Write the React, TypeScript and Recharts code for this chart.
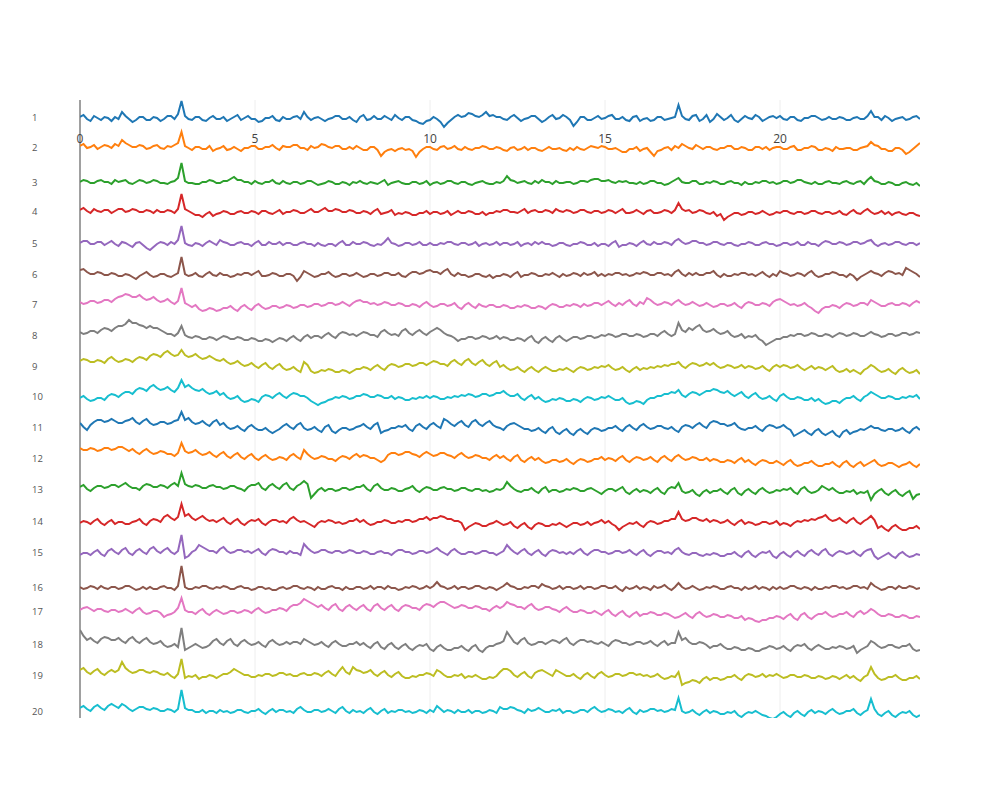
import React from 'react';
import { LineChart, Line, XAxis, YAxis, ReferenceLine } from 'recharts';

// sample times (s), 0.1 s grid from 0 to 24
const TIMES: number[] = Array.from({ length: 241 }, (_, i) => i / 10);
const X_TICKS = [0, 5, 10, 15, 20];
const CHANNEL_NAMES = ['1','2','3','4','5','6','7','8','9','10','11','12','13','14','15','16','17','18','19','20'];

// channel signals (amplitude units), one line per second
const CH1 = [
1,3,-1,-3,2,0,-2,1,0,-3, 1,-1,6,2,-1,-4,-2,1,1,-2, -2,1,0,-3,-1,2,2,-1,4,17, 2,-1,-2,1,1,-2,-3,0,2,-1,
-1,1,-3,-1,1,3,-2,0,2,-1, -1,-4,-3,0,0,2,-2,-3,1,-1, -1,1,2,-1,6,1,-2,0,1,-1, -3,-1,0,2,2,-1,-1,1,-2,-4,
1,3,-2,-1,2,-1,-1,2,0,-2, 3,0,-2,1,1,-2,-3,-5,-6,-3, -2,1,-1,-4,-9,-5,-2,1,3,1, 2,5,4,2,1,3,6,2,3,1,
1,-1,-2,1,3,0,-3,-1,0,2, 2,-1,-4,-2,1,3,-1,0,3,1, -2,-8,-4,1,1,-2,-2,0,2,-1, 0,2,3,-1,-1,1,-2,-3,1,2,
-3,-1,0,-3,-2,1,1,-2,-1,0, 1,13,2,-1,-2,2,3,-3,-1,3, -4,-1,4,1,-2,0,3,-2,-4,-1, 2,0,-1,3,1,-3,-1,1,2,0,
2,-1,-2,1,1,-2,-3,0,0,2, 2,0,-2,-1,1,-1,-1,1,0,-2, -2,0,1,-1,-1,2,7,1,1,-2, 2,0,-3,-1,0,1,-2,-1,1,2, -1];
const CH2 = [
2,4,0,1,3,-1,1,3,2,0, 4,2,8,5,3,1,1,3,2,-1, 0,2,3,0,-1,2,1,3,5,16, 2,0,-2,1,1,-1,-1,2,-3,-1,
0,2,-2,-1,1,-1,-3,0,0,2, 2,-1,-1,1,1,3,0,-2,2,1, 1,3,3,0,0,-2,2,0,1,4, 3,1,0,2,2,-1,-1,1,-1,2,
0,-2,-2,1,1,-2,-8,-4,-2,-1, -3,-1,0,-2,-1,-3,-9,-4,-1,1, 1,-1,-2,1,2,-1,0,2,-1,-2, 1,-1,-2,0,0,2,1,-1,-1,1,
0,-2,-3,0,1,-2,-1,1,-2,0, 0,-2,-3,-1,1,-1,-1,0,-2,-3, 0,-2,1,-1,-2,0,2,1,0,2, 1,-1,-1,0,-2,-4,-4,-1,-1,1,
-3,-1,0,-4,-8,-3,-2,0,1,-2, 2,0,4,2,0,-1,3,1,-1,1, 1,-1,-2,0,0,2,2,-1,-1,1, 0,-2,-2,1,1,-1,1,-2,0,1,
1,-1,-1,1,2,-2,-2,0,0,2, 1,-2,-2,0,-1,-3,1,-1,-1,0, 0,-2,-2,0,1,2,6,3,2,-1, -1,-3,-3,0,0,-2,-6,-4,-1,2, 5];
const CH3 = [
1,3,2,0,0,2,3,1,1,-1, 3,1,2,3,0,-1,1,3,2,0, 1,3,2,0,0,-1,1,2,5,20, 2,0,0,-1,-1,1,1,3,2,0,
0,2,2,4,6,3,3,1,1,-1, 2,0,-1,1,1,3,0,-1,2,0, -1,1,1,-1,0,2,2,0,-2,-1, 0,2,1,-1,-1,1,0,-2,1,0,
2,0,-1,1,0,-1,1,3,-2,0, 1,2,0,-1,-1,1,1,-1,0,2, -2,0,1,-1,0,2,2,0,-1,1, 1,-1,-2,0,1,2,0,-1,-1,1,
0,2,7,3,2,0,1,2,0,-1, 2,0,3,1,1,-1,2,0,0,1, 1,-1,0,2,2,1,3,4,4,2, 2,3,1,0,2,1,2,0,0,-1,
1,-1,0,2,2,0,0,-2,-1,1, 3,5,1,0,0,2,2,-1,-1,1, 0,2,1,-1,-1,1,2,0,0,-2, 1,-1,-1,1,0,2,2,0,1,-1,
0,2,2,0,1,3,3,1,0,-1, 1,-1,-1,1,2,0,0,-1,1,2, 0,-1,1,2,-1,3,6,2,1,-1, -1,1,0,-2,-2,0,1,-1,-2,0, -3];
const CH4 = [
2,4,1,-1,3,1,0,2,2,-1, 1,3,3,0,1,3,2,0,0,2, 1,-1,2,0,0,2,1,-1,3,18, 3,1,-1,-3,-3,-5,-2,0,-4,-2,
-1,1,0,-2,-2,0,1,-1,-1,1, 0,-2,1,1,-1,-2,0,2,-2,0, 0,2,1,-1,-1,1,3,0,0,2, 4,1,1,3,2,0,0,2,1,-1,
-1,1,0,-2,1,3,-2,-1,0,2, -3,-1,-2,0,-1,-3,-3,-1,-1,1, -2,0,0,-2,-1,1,-3,-1,1,-1, -1,1,0,-2,-2,0,-3,-1,-1,1,
0,2,2,0,0,-1,1,3,-1,1, 2,0,0,2,1,-1,3,1,0,2, 1,-1,0,2,2,0,-1,1,1,-1, 0,2,1,-1,1,3,-1,-1,0,2,
0,-2,1,2,-1,-1,0,2,1,-1, 2,9,3,1,2,-1,0,2,1,-1, -2,0,-4,-2,-8,-5,-3,-1,-1,-3, -2,0,0,-2,-1,1,-1,-3,-2,0,
-1,1,1,-1,-2,0,0,-2,-1,1, 1,-1,-2,0,0,-2,-1,1,-2,-3, 0,2,-1,-2,1,3,0,-2,-1,1, -2,0,-3,-1,0,-2,-3,-1,-1,-3, -4];
const CH5 = [
1,3,3,0,0,2,2,-1,1,3, 0,-2,2,1,-1,-3,1,2,-1,-4, -6,-3,0,2,1,-1,2,0,4,18, 1,-1,-2,1,0,-2,1,3,1,-1,
4,2,1,-1,-1,1,2,0,0,-2, 1,3,-1,-1,2,0,0,2,-1,1, 1,-1,-1,1,2,0,0,-2,1,-1, -2,0,0,-2,1,3,-1,-1,2,0,
0,2,1,-1,-2,0,-1,2,6,1, 0,-2,-1,1,1,-1,0,2,-1,-1, 1,-1,-1,1,0,2,2,0,-1,1, 1,-1,0,2,-2,0,1,-1,0,2,
-1,1,1,-1,0,2,-2,0,1,-1, 2,0,2,0,0,-2,-1,1,1,-1, -2,0,0,2,1,-1,-1,1,-2,0, 0,-2,1,3,-3,-1,-1,1,0,-2,
1,3,0,-1,2,0,0,2,1,-1, 3,5,2,0,1,3,3,1,1,-1, 0,2,2,0,-1,1,1,-1,-2,0, 0,2,1,-1,-1,1,2,0,0,-2,
-1,1,1,-1,0,2,-1,-1,2,0, 0,-2,1,3,2,0,0,2,1,-1, 0,2,2,0,1,3,4,0,-2,0, 1,-1,0,2,2,0,-1,1,1,-1, 1];
const CH6 = [
5,6,3,1,1,3,2,0,0,2, 1,-1,-1,1,0,-2,-4,-1,1,3, 0,-2,-1,1,1,-1,-2,0,2,18, 1,-1,0,2,-1,-2,1,3,0,-1,
2,0,0,-2,-1,1,0,2,2,0, 2,4,-1,-1,0,2,1,-1,-1,1, 1,-1,-6,-2,4,2,0,-2,-1,1, 1,3,0,-2,-1,1,1,-1,0,2,
0,-2,-1,1,1,-1,0,2,2,0, 0,2,-1,-2,1,3,3,1,2,4, 5,3,3,1,4,6,1,-1,2,0, 0,-2,-1,1,1,-1,-2,0,-3,-1,
-1,1,0,-2,1,3,-2,0,0,2, 1,-1,-1,1,0,2,0,-2,1,-1, 0,2,1,-1,2,0,1,3,-1,1, -1,1,0,2,2,0,1,-1,0,2,
1,3,2,0,0,2,2,0,1,-1, 3,5,1,-1,2,0,2,0,0,2, 2,4,0,-2,1,-1,-1,1,0,2, 2,0,1,-1,1,3,0,-2,1,-1,
4,2,1,-1,0,2,1,-1,2,4, 0,-2,-1,1,1,3,2,0,0,-2, 1,-1,-5,-2,0,2,4,2,1,-1, 2,4,3,1,2,0,7,5,3,1, -2];
const CH7 = [
3,1,2,4,4,2,3,5,5,3, 6,8,9,11,10,8,8,10,7,5, 6,8,5,3,4,6,3,1,4,17, 2,0,-2,0,-4,-6,-5,-3,-4,-6,
-5,-3,-3,-1,-4,-6,-2,0,-3,-5, -1,1,-2,-4,-3,-1,-1,-3,-2,0, -1,-3,-2,0,0,-2,-1,1,1,-1, 0,2,2,0,1,3,1,-1,2,4,
5,3,3,1,2,0,1,3,2,0, 0,2,1,-1,-1,1,0,-2,1,3, 0,-2,-1,1,1,-1,0,2,-2,-4, 0,2,-1,-3,1,-1,-2,0,0,-2,
-2,0,-1,-3,-3,-1,-2,0,-1,-3, -3,-1,-2,-4,-1,1,0,-2,-2,0, -1,1,0,-2,1,-1,0,2,2,0, 2,4,1,-1,2,0,3,5,1,-1,
3,1,7,5,2,0,1,3,2,0, 3,5,2,0,1,3,1,-1,0,2, 0,-2,-1,1,1,-1,0,2,-1,-3, 1,3,2,0,0,2,1,-1,3,5,
6,4,2,0,1,-1,0,2,-1,-3, -6,-8,-4,-2,-2,0,-1,-3,0,2, 1,-1,0,2,2,0,5,3,1,-1, -1,1,2,0,0,2,1,-1,2,4, 2];
const CH8 = [
4,2,3,5,5,3,6,8,7,5, 8,10,10,12,16,13,13,11,10,8, 10,8,8,6,4,2,2,0,3,10, 1,-1,-2,0,-1,-3,-3,-1,-2,-4,
-2,0,-1,-3,-3,-1,-2,-4,-4,-2, -3,-5,-5,-3,-4,-6,-4,-2,-3,-5, -2,0,-3,-5,-1,1,-2,0,0,-2, 1,3,0,-2,2,4,3,1,2,0,
2,4,3,1,1,-1,4,6,3,1, 2,0,5,7,3,1,4,6,3,1, 4,6,8,6,3,1,0,-2,-5,-3, -3,-1,-1,-3,-2,0,-1,-3,-2,0,
-3,-1,-2,-4,-4,-2,-3,-5,-2,0, -5,-7,-3,-1,-4,-6,-2,0,-3,-5, -3,-1,-1,-3,-2,0,0,-2,-1,1, 0,2,1,-1,0,2,2,0,0,2,
1,-1,0,2,2,0,3,5,2,0, 2,13,6,4,8,6,9,11,6,4, 5,7,4,2,3,5,1,-1,0,2, -2,0,-1,1,-3,-5,-9,-7,-5,-3,
-3,-1,-1,1,0,2,2,0,1,3, 2,0,0,2,1,-1,1,3,2,0, 1,3,2,0,0,2,4,2,1,-1, 0,2,2,0,1,3,3,1,2,4, 3];
const CH9 = [
6,8,7,5,5,7,6,4,8,10, 7,5,6,8,7,5,8,10,9,7, 11,13,12,10,14,16,13,11,12,17, 12,10,11,13,10,8,9,11,9,7,
6,8,5,3,4,6,3,1,2,4, 1,-1,2,4,0,-2,1,3,-1,-3, -2,0,-3,-5,5,2,-4,-6,-5,-3, -4,-2,-3,-5,-5,-3,-4,-6,-4,-2,
-2,0,-1,-3,0,2,-1,-3,1,3, 2,0,1,3,3,1,2,4,4,2, 4,6,5,3,3,1,5,7,4,2, 6,8,4,2,5,7,3,1,4,6,
0,2,-1,-3,-2,0,-3,-5,-2,0, -3,-5,-2,0,-2,-4,-4,-2,-3,-1, -3,-5,-2,0,-1,-3,-2,0,-1,1, 0,2,-1,-3,-2,0,-3,-5,-2,0,
-3,-1,-2,0,-1,1,0,2,1,3, 3,5,1,-1,2,4,3,1,2,4, 2,4,1,-1,0,2,1,-1,0,2, -1,1,0,-2,-1,1,-2,-4,0,2,
0,2,1,-1,0,2,-1,-3,-1,1, -2,0,-1,-3,-1,1,-3,-5,-4,-2, -5,-3,-5,-7,-3,-1,2,0,-3,-5, -4,-2,-5,-7,-3,-1,-4,-6,-5,-3, -7];
const CH10 = [
-1,1,-2,-4,-3,-1,-1,-3,1,3, 2,0,3,5,5,3,7,9,8,6, 10,12,9,7,8,10,7,5,9,17, 10,12,9,7,6,8,5,3,4,6,
2,4,0,-2,-1,1,-3,-5,-4,-2, -3,-5,0,2,1,-1,2,4,1,-1, 2,4,3,1,1,-1,-4,-6,-8,-6, -5,-3,-2,0,-1,1,0,-2,-1,1,
1,3,2,0,0,2,1,-1,-1,1, -2,0,-1,-3,-3,-1,-2,0,-1,1, -1,1,0,-2,-2,0,-1,1,0,2, 1,3,2,0,1,3,3,1,2,4,
4,6,3,1,1,3,-1,-3,0,2, -2,0,-3,-5,-4,-2,-3,-1,-2,-4, -4,-2,-3,-5,-2,0,-1,-3,-2,0, -1,1,-1,-3,-3,-1,-5,-7,-6,-4,
-5,-7,-3,-1,-1,1,1,3,3,5, 4,7,2,0,3,5,4,2,4,6, 6,8,7,5,4,6,3,1,3,5, 1,-1,2,4,0,-2,-1,1,-2,-4,
1,3,0,-2,-2,0,-1,-3,-3,-1, -4,-2,-5,-7,-6,-4,-4,-6,-3,-1, -1,1,-2,-4,0,2,5,3,1,-1, -1,1,0,-2,-2,0,-1,1,0,2, -2];
const CH11 = [
5,1,-2,3,6,8,8,6,7,9, 7,5,5,7,8,10,6,4,7,9, 5,3,4,6,6,4,5,7,8,16, 8,10,6,4,5,7,4,2,6,8,
3,5,1,-1,0,2,-1,-3,1,3, 0,-2,-2,0,-3,-5,-3,-1,2,4, 1,-1,3,5,0,-2,-1,1,-2,-4, 1,3,-3,-5,-2,0,0,-2,-1,1,
2,4,1,-1,3,5,-5,-3,-2,0, 0,2,1,3,-1,-3,2,4,1,-1, 3,5,2,0,9,7,4,2,5,7, 3,1,6,8,4,2,5,7,3,1,
0,-2,2,4,5,3,1,-1,-1,-3, -2,0,-3,-5,-1,1,-4,-6,-3,-1, -5,-7,-3,-1,-4,-6,-2,0,-1,-3, -2,0,0,2,-1,-3,1,3,0,-2,
2,4,1,-1,0,2,2,0,-1,1, -2,-4,1,3,2,0,3,5,2,0, 5,7,6,4,4,2,3,5,1,-1, -2,0,0,2,-1,-3,1,3,2,0,
1,3,0,-2,-8,-6,-4,-2,-5,-7, -3,-1,-5,-7,-5,-3,-7,-9,-4,-2, -6,-4,-3,-1,-2,0,2,0,0,-2, -3,-1,-1,-3,-2,0,-3,-5,-1,1, -2];
const CH12 = [
11,9,9,11,10,8,9,11,11,9, 10,12,12,10,8,10,7,5,8,10, 7,5,6,8,7,5,5,3,6,16, 8,6,7,9,6,4,5,7,4,2,
5,7,3,1,4,6,2,0,3,5, 1,-1,2,4,1,-1,0,2,1,-1, 3,5,2,0,9,5,2,0,1,3, 2,0,0,-2,1,3,2,0,3,5,
2,4,3,1,1,-1,-3,-1,4,6, 6,4,5,7,7,5,4,2,5,7, 5,3,4,6,6,4,3,1,4,6, 3,1,2,4,3,1,1,-1,2,4,
1,3,0,-2,2,4,-1,-3,0,2, -1,1,-2,-4,-3,-1,-1,-3,-2,0, -3,-5,-2,0,-1,-3,-2,0,0,2, -1,1,0,-2,1,3,-1,-3,0,2,
1,-1,0,2,-1,-3,1,3,0,-2, 2,4,1,-1,0,2,1,-1,-1,1, -2,0,-1,-3,-3,-1,-2,-4,-1,1, -3,-1,-4,-6,-3,-1,-2,-4,-4,-2,
-4,-6,-3,-1,-5,-7,-6,-4,-4,-2, -5,-7,-7,-5,-5,-3,-6,-8,-4,-2, -6,-8,-5,-3,-7,-5,-3,-1,-5,-7, -6,-4,-4,-6,-8,-6,-5,-3,-6,-8, -5];
const CH13 = [
3,5,1,-1,2,4,4,2,3,5, 5,3,5,7,4,2,2,0,4,6, 5,3,3,5,4,2,5,7,4,17, 6,4,3,5,4,2,2,4,5,3,
3,1,2,4,4,2,1,-1,3,5, 5,7,2,0,4,6,3,1,5,7, 2,0,4,6,9,6,-8,-4,0,2, -1,1,1,-1,0,2,2,0,1,3,
3,5,1,-1,4,6,2,0,0,2, 1,-1,-1,1,2,4,0,-2,1,3, 2,0,0,2,3,1,1,-1,0,2, 2,0,-1,1,1,-1,0,-2,-1,1,
0,2,8,4,1,-1,-2,0,0,2, -1,-3,1,3,-2,0,0,-2,-1,1, 0,2,1,-1,-1,1,2,0,-2,-4, -1,1,1,-1,1,3,-2,-4,-1,1,
-2,0,-1,-3,0,2,-2,-4,1,3, 2,7,-1,-3,-2,0,-4,-6,-2,0, -3,-1,-1,1,-2,-4,0,2,-3,-5, -1,1,-2,-4,0,2,-1,-3,-2,0,
-1,1,0,2,-2,-4,1,3,-1,-3, -2,0,4,2,0,2,-1,-3,-3,-1, -2,0,-4,-2,-3,-1,-10,-4,-1,1, -3,-5,-2,0,-4,-6,-3,-1,-9,-5, -4];
const CH14 = [
-1,1,0,-2,1,3,-1,-3,0,2, -2,0,0,-2,-2,0,1,3,-1,-3, 1,3,2,0,5,7,4,2,5,18, 6,8,4,2,4,6,3,1,2,0,
2,4,0,-2,1,3,-1,-3,0,2, 1,3,-1,-3,0,2,2,0,1,-1, 3,5,2,0,1,-1,-3,-5,-1,1, 0,2,1,-1,0,-2,-1,1,1,3,
0,2,-1,-3,-2,0,0,2,1,-1, -1,1,0,2,2,0,1,3,3,5, 2,4,4,6,5,3,3,1,1,-1, -8,-5,-3,-1,-2,-4,-4,-2,-1,1,
-1,-3,-2,0,-4,-6,-3,-1,-5,-7, -3,-1,-2,-4,-4,-2,-3,-1,-3,-5, -3,-1,-1,-3,-2,0,-3,-1,0,2, -1,1,-2,-4,-8,-5,-3,-1,-2,0,
-3,-5,-1,1,0,-2,-1,1,1,3, 3,10,3,1,2,4,4,2,1,3, 0,2,1,-1,0,2,-1,-3,0,2, -2,0,-1,-3,-2,0,0,-2,-1,1,
-3,-1,-2,-4,-1,1,0,2,1,3, 2,4,5,7,3,1,2,4,1,-1, 2,4,0,-2,1,3,6,2,-6,-4, -7,-9,-5,-3,-6,-8,-8,-6,-6,-4, -7];
const CH15 = [
-2,0,0,-2,1,3,-1,-3,2,4, 1,-1,3,5,0,-2,2,4,1,-1, 4,6,2,0,3,5,1,-1,2,18, -5,-3,1,3,8,6,4,2,2,0,
4,6,2,0,1,3,3,1,2,0, 2,4,0,-2,2,4,3,1,1,-1, 2,0,0,-2,9,5,2,0,1,3, 3,1,0,2,2,0,1,3,2,0,
0,2,1,-1,-1,1,2,0,0,-2, 1,3,3,1,1,-1,0,2,2,0, 1,3,5,2,0,-2,2,4,1,-1, -1,1,1,-1,0,2,2,0,0,-2,
0,2,8,4,1,-1,2,4,0,-2, 1,3,-1,-3,1,3,2,0,1,-1, 1,-1,2,4,0,-2,1,3,3,1, 1,-1,0,2,2,0,1,3,0,-2,
1,3,-1,-3,0,2,2,0,1,-1, 3,5,1,-1,-2,0,0,-2,-3,-1, -2,0,-1,-3,-3,-1,-1,1,-2,-4, 0,2,-2,-4,-1,1,0,2,-3,-5,
-1,1,-2,-4,0,2,-1,-3,1,3, 0,-2,2,4,-1,-3,0,2,1,-1, 0,2,-1,-3,1,3,4,-3,-6,-4, -2,0,-3,-5,-1,1,-2,-4,-3,-1, -2];
const CH16 = [
1,-1,0,2,1,-1,2,0,-1,1, 1,-1,0,2,2,0,-2,-1,1,-1, 1,-1,-1,1,2,0,0,-2,2,22, 1,-1,-1,1,0,2,2,0,-1,1,
0,2,1,-1,-1,1,2,0,0,-2, -1,1,1,-1,0,-2,-2,0,1,-1, 0,2,2,0,-1,1,0,-2,1,-1, -1,1,2,0,0,-2,1,-1,-1,1,
1,-1,0,2,-1,1,1,-1,2,0, 0,-2,-1,1,0,2,1,-1,0,2, 0,2,6,2,1,-1,0,2,-1,1, 1,-1,0,2,2,0,-1,1,0,-2,
0,2,5,2,1,-1,-1,1,0,2, 2,0,4,2,1,-1,0,2,-1,1, 1,-1,0,2,-1,1,1,-1,0,2, 2,0,0,2,-1,-3,1,-1,0,2,
-1,1,0,-2,2,0,1,3,0,-2, 1,5,1,-1,0,2,0,-2,-1,1, 0,2,1,-1,-1,1,2,0,0,-2, 1,-1,0,2,-1,1,0,-2,1,-1,
1,-1,0,2,2,0,-1,1,0,-2, 1,-1,-1,1,0,2,2,0,1,-1, 0,2,2,0,1,-1,5,2,0,-2, -1,1,1,-1,2,0,0,2,1,-1, 0];
const CH17 = [
2,4,5,3,1,3,3,1,0,2, 2,0,1,3,1,-1,2,4,0,-2, -1,1,1,-1,-5,-3,-2,0,4,14, 2,0,0,-2,1,3,-1,-3,0,2,
0,-2,-1,1,1,-1,0,2,1,-1, 2,4,1,-1,0,2,2,4,3,1, 5,7,7,9,13,11,9,7,5,7, 4,2,6,8,3,1,5,7,4,2,
5,7,3,1,6,8,4,2,5,7, 3,1,5,7,6,4,4,2,6,8, 7,5,8,10,10,8,6,4,5,7, 6,4,4,6,5,3,3,1,4,6,
4,6,10,8,7,5,5,3,6,8, 4,2,3,5,5,3,2,0,3,5, 2,0,0,2,1,-1,-1,1,-1,-3, 0,2,-2,-4,-1,1,-3,-5,-2,0,
-4,-2,-2,0,-1,-3,-3,-1,-2,-4, -6,-5,-3,-1,-4,-6,-2,0,-3,-5, -4,-2,-3,-5,-5,-3,-4,-6,-6,-4, -8,-6,-7,-9,-10,-8,-8,-6,-6,-4,
-5,-7,-4,-2,-6,-8,-3,-1,-5,-7, -4,-2,-2,0,-3,-5,-4,-2,-2,0, -3,-5,-1,1,-2,0,3,1,-2,-4, -4,-2,-3,-5,-5,-3,-4,-6,-6,-4, -5];
const CH18 = [
15,9,5,7,4,2,6,8,7,5, 5,7,4,2,6,8,4,2,5,7, 3,1,2,4,0,-2,-1,1,-2,17, -5,-3,-1,1,-1,-3,-2,0,4,6,
2,0,4,6,1,-1,3,5,2,0, 1,3,0,-2,3,5,2,0,1,3, 1,3,3,1,6,4,2,0,1,3, 0,-2,2,4,1,-1,-1,1,1,3,
0,2,-1,-3,1,3,-2,-4,0,2, -2,-4,-1,1,-3,-5,-2,0,-1,1, -4,-6,-2,0,-3,-5,-5,-3,-3,-1, -4,-6,-2,0,-5,-7,-3,-1,-1,1,
2,4,13,8,3,1,5,7,2,0, 1,3,3,1,3,5,4,2,5,7, 2,0,3,5,5,3,4,2,1,3, 1,-1,3,5,4,2,2,0,1,3,
3,1,2,4,1,-1,2,4,0,2, 2,13,5,7,3,1,1,3,2,0, -3,-1,-1,1,-2,-4,-4,-2,-3,-5, -5,-3,-4,-6,-6,-4,-3,-1,-2,-4,
-3,-1,-4,-6,-2,0,-1,1,-3,-5, -2,0,-2,-4,-4,-2,-3,-1,-2,-4, -3,-1,-8,-5,-3,-1,4,2,-1,-3, -2,0,0,-2,-3,-1,-1,1,-4,-6, -5];
const CH19 = [
6,8,4,2,5,7,3,1,4,6, 4,6,14,8,5,3,4,6,6,4, 3,5,4,2,1,3,0,-2,2,17, -2,0,-1,1,-3,-1,-1,1,0,-2,
0,2,2,4,7,5,3,1,1,-1, -1,1,0,2,2,0,1,3,3,1, 2,0,0,2,3,1,1,3,2,0, 3,5,2,0,5,9,4,2,9,6,
5,3,4,6,2,0,3,5,1,-1, 2,4,0,-2,-2,0,-1,1,1,3, 2,0,6,4,1,-1,-1,1,0,2, -2,0,-1,1,-1,-3,-3,-1,-2,0,
4,7,7,5,1,-1,2,4,0,-2, 3,5,6,4,2,0,6,4,2,0, 0,2,-1,-3,1,3,0,-2,2,4, 1,-1,0,2,2,0,1,3,3,1,
2,0,1,-1,0,2,-1,-3,-2,0, -1,4,-9,-7,-6,-4,-5,-7,-3,-1, -4,-2,-2,-4,-3,-1,-1,1,-2,-4, 0,2,1,-1,0,2,-1,1,0,2,
0,-2,-1,1,1,-1,-1,1,0,-2, -2,0,-1,-3,-2,0,-1,-3,-1,1, -2,0,-3,-5,-1,1,9,2,-2,-4, -3,-1,-1,1,-2,-4,-4,-2,-2,0, -3];
const CH20 = [
4,6,3,1,5,7,4,2,6,8, 6,4,8,6,3,1,3,5,5,3, 2,4,3,1,1,3,2,0,3,22, 4,2,2,0,0,2,-1,1,1,-1,
2,0,1,-1,0,2,2,0,-1,1, 1,3,0,-2,1,3,0,2,2,0, 1,-1,3,5,2,0,0,2,2,0, 1,3,1,-1,3,5,1,-1,2,0,
1,-1,2,4,0,-2,1,3,-1,1, 0,2,2,0,1,-1,0,2,1,-1, 2,0,6,3,0,2,1,-1,2,0, 0,2,-1,1,1,-1,0,2,1,-1,
5,3,3,5,4,2,1,-1,3,1, 2,4,2,0,0,2,1,3,-1,1, 1,-1,0,2,2,0,3,5,2,0, 1,3,2,0,1,-1,2,4,0,-2,
2,0,1,3,3,1,2,0,1,3, 2,14,1,-1,0,2,-1,-3,0,2, -1,1,0,-2,-2,0,-1,1,-3,-5, -2,0,-1,1,-1,-3,-4,-6,-7,-5,
-2,0,-3,-5,-1,1,-2,-4,0,2, -1,1,0,-2,1,3,0,-2,-1,1, 1,3,-1,-3,0,2,13,3,-2,-4, -1,1,-3,-5,-2,0,-1,1,-3,-5, -3];

const CHANNELS = [CH1, CH2, CH3, CH4, CH5, CH6, CH7, CH8, CH9, CH10, CH11, CH12, CH13, CH14, CH15, CH16, CH17, CH18, CH19, CH20];

// styling / layout
const COLORS = ['#1f77b4','#ff7f0e','#2ca02c','#d62728','#9467bd','#8c564b','#e377c2','#7f7f7f','#bcbd22','#17becf'];
const PLOT_TOP = 100;
const PLOT_BOTTOM = 718;
const CHANNEL_ZERO_Y = [118,148,183,212,244,275,305,336,367,397,428,459,490,522,553,588,612,645,676,712];
const FONT = '"Open Sans", Roboto, sans-serif';

const rows = TIMES.map((t, i) => {
  const r: Record<string, number> = { t };
  CHANNELS.forEach((ch, c) => { r['c' + c] = ch[i]; });
  return r;
});

export default function App() {
  return (
    <div style={{ position: 'absolute', left: 0, top: 0, width: 1000, height: 800, background: '#fff' }}>
      <LineChart width={1000} height={800} data={rows} margin={{ top: PLOT_TOP, right: 80, bottom: 800 - PLOT_BOTTOM, left: 80 }}>
        <XAxis dataKey="t" type="number" domain={[0, 24]} hide allowDataOverflow />
        {CHANNELS.map((_, c) => (
          <YAxis
            key={'y' + c}
            yAxisId={'c' + c}
            type="number"
            hide
            domain={[CHANNEL_ZERO_Y[c] - PLOT_BOTTOM, CHANNEL_ZERO_Y[c] - PLOT_TOP]}
            allowDataOverflow
          />
        ))}
        {X_TICKS.map((v) => (
          <ReferenceLine
            key={'gx' + v}
            x={v}
            yAxisId="c0"
            stroke={v === 0 ? '#a0a0a0' : '#eeeeee'}
            strokeWidth={v === 0 ? 2 : 1}
            label={(p: any) => (
              <text x={p.viewBox.x} y={143} textAnchor="middle" fontSize={12} fill="#444" fontFamily={FONT}>
                {v}
              </text>
            )}
          />
        ))}
        {CHANNELS.map((_, c) => (
          <ReferenceLine
            key={'gy' + c}
            y={0}
            yAxisId={'c' + c}
            stroke="none"
            strokeOpacity={0}
            label={(p: any) => (
              <text x={32} y={p.viewBox.y} dy={3.3} textAnchor="start" fontSize={9.5} fill="#555" fontFamily={FONT}>
                {CHANNEL_NAMES[c]}
              </text>
            )}
          />
        ))}
        {CHANNELS.map((_, c) => (
          <Line
            key={'l' + c}
            yAxisId={'c' + c}
            dataKey={'c' + c}
            type="linear"
            stroke={COLORS[c % 10]}
            strokeWidth={2}
            dot={false}
            activeDot={false}
            isAnimationActive={false}
          />
        ))}
      </LineChart>
    </div>
  );
}
